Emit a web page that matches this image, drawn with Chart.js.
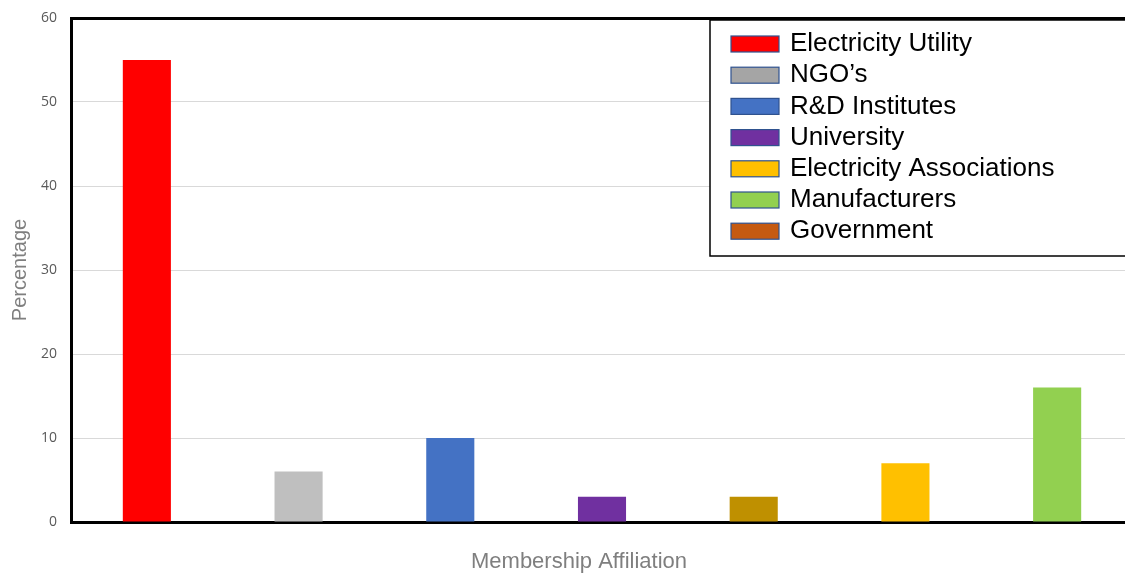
<!DOCTYPE html>
<html>
<head>
<meta charset="utf-8">
<script src="https://cdn.jsdelivr.net/npm/chart.js@4"></script>
<style>
html, body { margin: 0; padding: 0; overflow: hidden; background: #fff; }
#wrap { width: 1133px; height: 574px; position: relative; }
</style>
</head>
<body>
<div id="wrap"><canvas id="myBarChart"></canvas></div>
<script>
var categories = ["Electricity Utility", "NGO's", "R&D Institutes", "University", "Government", "Electricity Associations", "Manufacturers"];
var percentages = [55, 6, 10, 3, 3, 7, 16];
var barColors = ['#ff0000', '#bfbfbf', '#4472c4', '#7030a0', '#bf9000', '#ffc000', '#92d050'];
var legendLabels = ["Electricity Utility", "NGO\u2019s", "R&D Institutes", "University", "Electricity Associations", "Manufacturers", "Government"];
var legendColors = ['#ff0000', '#a5a5a5', '#4472c4', '#7030a0', '#ffc000', '#92d050', '#c55a11'];
var yTicks = [0, 10, 20, 30, 40, 50, 60];

// legend box drawn over the plot, like the original, plus the x title
var boxLegend = {
    id: 'boxLegend',
    afterDraw: function(chart) {
        var c = chart.ctx;
        c.save();
        c.fillStyle = '#fff';
        c.fillRect(710, 20, 500, 236);
        c.strokeStyle = '#000';
        c.lineWidth = 1.5;
        c.strokeRect(710, 20, 500, 236);
        c.font = '26px "Liberation Sans", Arial, sans-serif';
        c.textBaseline = 'middle';
        for (var i = 0; i < legendLabels.length; i++) {
            var y = 44 + i * 31.2;
            c.fillStyle = legendColors[i];
            c.fillRect(731, y - 8, 48, 16);
            c.strokeStyle = '#2f528f';
            c.lineWidth = 1.2;
            c.strokeRect(731, y - 8, 48, 16);
            c.fillStyle = '#000';
            c.fillText(legendLabels[i], 790, y);
        }
        c.font = '22px "Liberation Sans", Arial, sans-serif';
        c.fillStyle = '#7f7f7f';
        c.textAlign = 'center';
        c.fillText('Membership Affiliation', 579, 562);
        c.restore();
    }
};

var ctx = document.getElementById("myBarChart").getContext('2d');
var myBarChart = new Chart(ctx, {
    type: 'bar',
    data: {
        labels: categories,
        datasets: [{
            label: 'Percentage',
            data: percentages,
            backgroundColor: barColors,
            borderWidth: 0,
            categoryPercentage: 1,
            barPercentage: 0.317
        }]
    },
    options: {
        responsive: true,
        maintainAspectRatio: false,
        animation: false,
        layout: { padding: { left: 8, top: 18, right: 0, bottom: 0 } },
        plugins: {
            legend: { display: false },
            tooltip: { enabled: false }
        },
        scales: {
            x: {
                grid: { display: false },
                border: { color: '#000', width: 3 },
                ticks: { display: false },
                afterFit: function(s) { s.height = 52; }
            },
            y: {
                min: 0,
                max: 60,
                afterBuildTicks: function(s) {
                    s.ticks = yTicks.map(function(v) { return { value: v }; });
                },
                grid: {
                    drawTicks: false,
                    color: function(c) { return c.tick && c.tick.value === 60 ? '#000' : '#d9d9d9'; },
                    lineWidth: function(c) { return c.tick && c.tick.value === 60 ? 3 : 1; }
                },
                border: { color: '#000', width: 3 },
                ticks: {
                    padding: 14,
                    color: '#595959',
                    font: { family: '"Open Sans", sans-serif', size: 14 }
                },
                title: {
                    display: true,
                    text: 'Percentage',
                    color: '#7f7f7f',
                    font: { family: '"Liberation Sans", Arial, sans-serif', size: 20 },
                    padding: 0
                },
                afterFit: function(s) {
                    s.width = 63;
                    s.paddingTop = 0;
                    s.paddingBottom = 0;
                }
            }
        }
    },
    plugins: [boxLegend]
});
</script>
</body>
</html>
